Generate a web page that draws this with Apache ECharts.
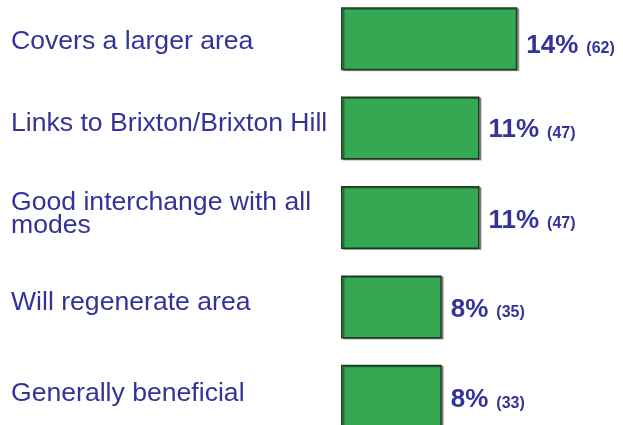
<!DOCTYPE html>
<html><head><meta charset="utf-8">
<script src="https://cdn.jsdelivr.net/npm/echarts@6/dist/echarts.min.js"></script>
<style>html,body{margin:0;padding:0;background:#fff}#c{width:623px;height:425px}</style>
</head><body><div id="c"></div>
<script>
const categories = ["Covers a larger area","Links to Brixton/Brixton Hill","Good interchange with all\nmodes","Will regenerate area","Generally beneficial"];
const percents = [14, 11, 11, 8, 8];
const counts = [62, 47, 47, 35, 33];

// small per-row text nudges (style only)
const catShift = [3, -4, -3, -4, -3];
const valShift = [7, 2, 3, 3, 4];

const FONT = 'Liberation Sans, Arial, sans-serif';
const catRich = {};
catShift.forEach((s, i) => {
  catRich['c' + i] = { color: '#333399', fontFamily: FONT, fontSize: 26.6, lineHeight: 23,
    padding: s >= 0 ? [s * 2, 0, 0, 0] : [0, 0, -s * 2, 0] };
});

const chart = echarts.init(document.getElementById('c'));
chart.setOption({
  animation: false,
  grid: { left: 341, top: -6, width: 277, height: 447, containLabel: false, outerBoundsMode: 'none' },
  xAxis: { type: 'value', min: 0, max: 22, show: false },
  yAxis: {
    type: 'category', data: categories, inverse: true,
    axisLine: { show: false }, axisTick: { show: false }, splitLine: { show: false },
    axisLabel: {
      align: 'left', margin: 330, color: '#333399', fontFamily: FONT, fontSize: 26.6, lineHeight: 23,
      formatter: (v, i) => v.split('\n').map(l => '{c' + i + '|' + l + '}').join('\n'),
      rich: catRich
    }
  },
  series: [{
    type: 'bar', barWidth: 63,
    data: percents.map((p, i) => ({ value: p, label: { offset: [0, valShift[i]] } })),
    itemStyle: { color: '#34a853', borderColor: '#1f3a22', borderWidth: 1.5, shadowColor: 'rgba(0,0,0,0.35)', shadowOffsetX: 2, shadowOffsetY: 1, shadowBlur: 0 },
    label: {
      show: true, position: 'right', distance: 9,
      formatter: p => '{a|' + p.value + '%}{b|(' + counts[p.dataIndex] + ')}',
      rich: {
        a: { fontFamily: FONT, fontSize: 26, fontWeight: 'bold', color: '#333399' },
        b: { fontFamily: FONT, fontSize: 16, fontWeight: 'bold', color: '#333399', verticalAlign: 'bottom', padding: [0, 0, 2, 8] }
      }
    }
  }]
});
</script></body></html>
